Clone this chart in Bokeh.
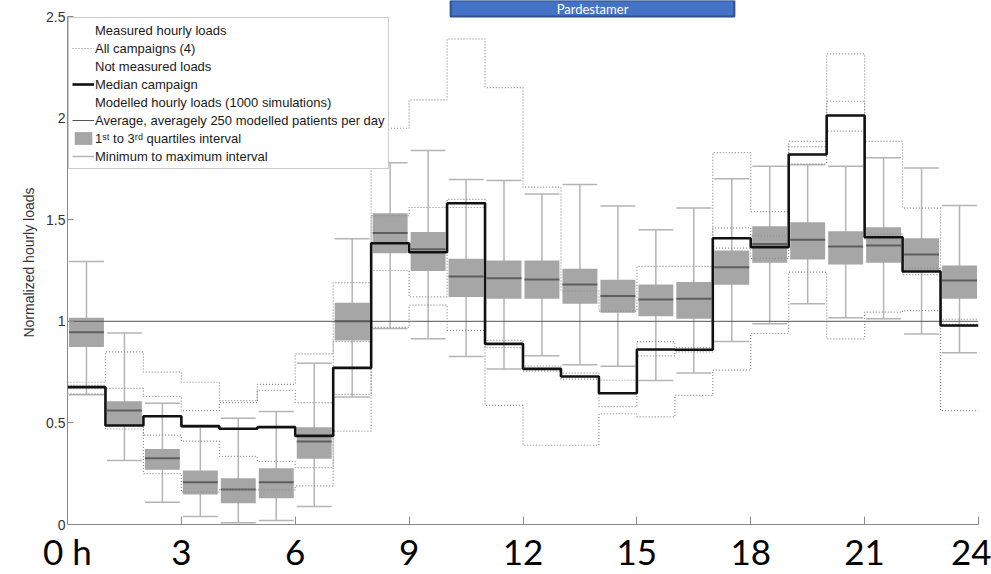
from bokeh.plotting import figure
from bokeh.models import (Legend, LegendItem, Label, FixedTicker, Range1d)
from bokeh.embed import file_html
from bokeh.resources import INLINE

# ---------------- data ----------------
hours = list(range(24))
hour_edges = list(range(25))

median_campaign = [0.676, 0.487, 0.533, 0.484, 0.471, 0.479, 0.436, 0.771, 1.384, 1.340, 1.581, 0.889,
                   0.766, 0.728, 0.646, 0.861, 0.860, 1.409, 1.365, 1.821, 2.013, 1.414, 1.245, 0.979]

campaign_1 = [0.700, 0.850, 0.750, 0.700, 0.610, 0.690, 0.840, 1.190, 1.950, 2.090, 2.390, 2.150,
              1.660, 1.150, 1.050, 1.270, 1.270, 1.830, 1.540, 1.885, 2.316, 1.885, 1.557, 1.010]
campaign_2 = [0.685, 0.670, 0.630, 0.560, 0.600, 0.660, 0.600, 0.900, 1.520, 1.560, 1.600, 0.906,
              0.780, 0.745, 0.710, 0.900, 0.870, 1.460, 1.420, 1.860, 2.083, 1.430, 1.260, 0.985]
campaign_3 = [0.668, 0.490, 0.440, 0.410, 0.335, 0.310, 0.280, 0.640, 1.250, 1.120, 1.560, 0.870,
              0.755, 0.715, 0.580, 0.830, 0.850, 1.360, 1.310, 1.775, 1.936, 1.400, 1.230, 0.975]
campaign_4 = [0.643, 0.470, 0.250, 0.160, 0.170, 0.170, 0.190, 0.460, 0.970, 1.080, 0.955, 0.586,
              0.390, 0.390, 0.545, 0.530, 0.635, 0.760, 0.940, 1.242, 0.914, 1.045, 1.053, 0.560]

q1 = [0.873, 0.487, 0.269, 0.148, 0.105, 0.129, 0.323, 0.906, 1.335, 1.247, 1.119, 1.111,
      1.111, 1.086, 1.042, 1.025, 1.012, 1.180, 1.288, 1.304, 1.280, 1.288, 1.245, 1.111]
q2 = [0.946, 0.561, 0.326, 0.208, 0.172, 0.208, 0.408, 1.000, 1.434, 1.355, 1.220, 1.212,
      1.206, 1.181, 1.124, 1.107, 1.111, 1.266, 1.381, 1.401, 1.368, 1.373, 1.329, 1.201]
q3 = [1.017, 0.607, 0.372, 0.266, 0.228, 0.277, 0.479, 1.091, 1.532, 1.439, 1.308, 1.299,
      1.299, 1.258, 1.204, 1.181, 1.193, 1.348, 1.468, 1.488, 1.443, 1.463, 1.409, 1.275]
sim_min = [0.638, 0.315, 0.110, 0.039, 0.008, 0.020, 0.089, 0.627, 0.965, 0.914, 0.827, 0.765,
           0.831, 0.786, 0.779, 0.709, 0.746, 0.900, 0.988, 1.086, 1.017, 1.012, 0.938, 0.845]
sim_max = [1.294, 0.943, 0.597, 0.479, 0.523, 0.556, 0.794, 1.406, 1.780, 1.841, 1.698, 1.693,
           1.627, 1.673, 1.567, 1.450, 1.557, 1.701, 1.763, 1.770, 1.763, 1.805, 1.755, 1.570]

average_level = 1.0

x_ticks = [0, 3, 6, 9, 12, 15, 18, 21, 24]
x_tick_labels = ["0 h", "3", "6", "9", "12", "15", "18", "21", "24"]
y_ticks = [0, 0.5, 1, 1.5, 2, 2.5]
y_tick_labels = ["0", "0.5", "1", "1.5", "2", "2.5"]

title_text = "Pardestamer"

# ---------------- layout ----------------
W, H = 991, 574
FRAME_LEFT, FRAME_RIGHT_GAP, FRAME_BOTTOM_GAP = 67, 13, 50
AXIS_TOP_PX = 16          # where y = 2.5 sits, measured from the top of the page
frame_h = H - FRAME_BOTTOM_GAP
y_end = y_ticks[-1] * frame_h / (frame_h - AXIS_TOP_PX)

LEG_TOP, LEG_PAD, LEG_ROW = 19, 3, 18

p = figure(width=W, height=H, output_backend="svg", toolbar_location=None,
           x_range=Range1d(hour_edges[0], hour_edges[-1]), y_range=Range1d(y_ticks[0], y_end),
           min_border_left=FRAME_LEFT, min_border_right=FRAME_RIGHT_GAP, min_border_top=0,
           min_border_bottom=FRAME_BOTTOM_GAP)
p.outline_line_color = None
p.xgrid.visible = False
p.ygrid.visible = False
p.background_fill_color = "white"
p.border_fill_color = "white"

BW = 0.92  # box width in hours
centers = [h + 0.5 for h in hours]
left = [c - BW / 2 for c in centers]
right = [c + BW / 2 for c in centers]

def stepped(vals):
    return vals + [vals[-1]]

# whiskers
whisk_col = "#b4b4b4"
r_whisk = p.segment(x0=centers, y0=sim_min, x1=centers, y1=sim_max, line_color=whisk_col, line_width=1.5)
p.segment(x0=left, y0=sim_max, x1=right, y1=sim_max, line_color=whisk_col, line_width=1.5)
p.segment(x0=left, y0=sim_min, x1=right, y1=sim_min, line_color=whisk_col, line_width=1.5)

# boxes
r_box = p.vbar(x=centers, width=BW, bottom=q1, top=q3, fill_color="#a6a6a6", line_color=None)
p.segment(x0=left, y0=q2, x1=right, y1=q2, line_color="#5e5e5e", line_width=2)

# campaigns
camp_renderers = []
for camp in (campaign_1, campaign_2, campaign_3, campaign_4):
    r = p.step(x=hour_edges, y=stepped(camp), mode="after", line_color="#8c8c8c",
               line_dash="1 2", line_width=1.2)
    camp_renderers.append(r)

# average line
r_avg = p.line(x=[hour_edges[0], hour_edges[-1]], y=[average_level, average_level],
               line_color="#555555", line_width=1)

# median campaign
r_med = p.step(x=hour_edges, y=stepped(median_campaign), mode="after", line_color="#111111",
               line_width=2.6)

# placeholders for legend headings
r_blank1 = p.line(x=[], y=[], line_alpha=0)
r_blank2 = p.line(x=[], y=[], line_alpha=0)
r_notmeas = p.line(x=[], y=[], line_color="white", line_width=1)

items = [
    LegendItem(label="Measured hourly loads", renderers=[r_blank1]),
    LegendItem(label="All campaigns (4)", renderers=[camp_renderers[0]]),
    LegendItem(label="Not measured loads", renderers=[r_notmeas]),
    LegendItem(label="Median campaign", renderers=[r_med]),
    LegendItem(label="Modelled hourly loads (1000 simulations)", renderers=[r_blank2]),
    LegendItem(label="Average, averagely 250 modelled patients per day", renderers=[r_avg]),
    LegendItem(label="1\u02e2\u1d57 to 3\u02b3\u1d48 quartiles interval", renderers=[r_box]),
    LegendItem(label="Minimum to maximum interval", renderers=[r_whisk]),
]
legend_h = 2 * LEG_PAD + LEG_ROW * len(items)
legend = Legend(items=items, location=(1, frame_h - LEG_TOP - legend_h))
legend.margin = 0
legend.padding = LEG_PAD
legend.spacing = 0
legend.label_height = LEG_ROW
legend.glyph_height = 16
legend.glyph_width = 22
legend.label_standoff = 1
legend.label_text_font = "Liberation Sans"
legend.label_text_font_size = "13px"
legend.label_text_color = "#1a1a1a"
legend.border_line_color = "#9a9a9a"
legend.border_line_width = 1
legend.background_fill_color = "white"
legend.background_fill_alpha = 1
p.add_layout(legend)

# axes
p.xaxis.ticker = FixedTicker(ticks=x_ticks)
p.xaxis.major_label_overrides = dict(zip(x_ticks, x_tick_labels))
p.xaxis.major_label_text_font = "Lato"
p.xaxis.major_label_text_font_size = "35px"
p.xaxis.major_label_text_color = "black"
p.xaxis.major_label_standoff = 5
p.xaxis.major_tick_in = 8
p.xaxis.major_tick_out = 0
p.xaxis.minor_tick_line_color = None
p.xaxis.axis_line_color = "#8a8a8a"
p.xaxis.major_tick_line_color = "#8a8a8a"

p.yaxis.ticker = FixedTicker(ticks=y_ticks)
p.yaxis.bounds = (y_ticks[0], y_ticks[-1])
p.yaxis.major_label_overrides = dict(zip(y_ticks, y_tick_labels))
p.yaxis.major_label_text_font = "Liberation Sans"
p.yaxis.major_label_text_font_size = "14px"
p.yaxis.major_label_text_color = "#333333"
p.yaxis.major_label_standoff = 2
p.yaxis.major_tick_in = 6
p.yaxis.major_tick_out = 0
p.yaxis.minor_tick_line_color = None
p.yaxis.axis_line_color = "#8a8a8a"
p.yaxis.major_tick_line_color = "#8a8a8a"
p.yaxis.axis_label = "Normalized hourly loads"
p.yaxis.axis_label_text_font = "Liberation Sans"
p.yaxis.axis_label_text_font_size = "14px"
p.yaxis.axis_label_text_font_style = "normal"
p.yaxis.axis_label_text_color = "#333333"
p.yaxis.axis_label_standoff = 6

# blue title box at the top of the page
p.add_layout(Label(x=525, y=frame_h - 8, x_units="screen", y_units="screen", text=title_text,
                   text_align="center", text_baseline="middle", text_color="white",
                   text_font="Lato", text_font_size="13px", level="overlay",
                   background_fill_color="#4472C4", background_fill_alpha=1,
                   border_line_color="#2F528F", border_line_width=2,
                   padding=dict(left=106, right=106, top=0, bottom=0)))

open("out.html", "w").write(file_html(p, INLINE))
